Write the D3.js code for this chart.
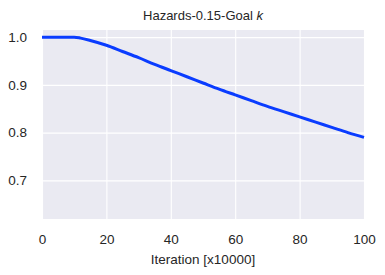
<!DOCTYPE html>
<html>
<head>
<meta charset="utf-8">
<script src="https://cdn.jsdelivr.net/npm/d3@7"></script>
<style>
  body { margin: 0; background: #fff; }
  text { font-family: "Liberation Sans", Arial, sans-serif; fill: #262626; }
</style>
</head>
<body>
<div id="chart"><svg></svg></div>
<script>
var iterations = [0, 5, 10, 12, 15, 20, 25, 30, 35, 40, 45, 50, 55, 60, 65, 70, 75, 80, 85, 90, 95, 100];
var values = [1.0, 1.0, 1.0, 0.998, 0.993, 0.983, 0.970, 0.957, 0.943, 0.930, 0.917, 0.904, 0.891, 0.879, 0.867, 0.855, 0.844, 0.833, 0.822, 0.811, 0.800, 0.790];
var xTicks = [0, 20, 40, 60, 80, 100];
var yTicks = [0.7, 0.8, 0.9, 1.0];

var margin = { top: 30, right: 21, bottom: 56, left: 42 };
var width = 385 - margin.left - margin.right;
var height = 275 - margin.top - margin.bottom;

var ds = iterations.map(function(x, i) { return { x: x, y: values[i] }; });

var xScale = d3.scaleLinear().range([0, width]).domain([0, 100]);
var yScale = d3.scaleLinear().range([height, 0]).domain([0.619, 1.015]);

var svg = d3.select("#chart svg").
  attr("width", 385).
  attr("height", 275).
  append("g").
  attr("transform", "translate(" + margin.left + "," + margin.top + ")");

svg.append("rect").
  attr("width", width).
  attr("height", height).
  attr("fill", "#eaeaf2");

var xAxis = d3.axisBottom(xScale).
  tickValues(xTicks).
  tickFormat(d3.format("d")).
  tickSize(-height).
  tickPadding(15);

var yAxis = d3.axisLeft(yScale).
  tickValues(yTicks).
  tickFormat(d3.format(".1f")).
  tickSize(-width).
  tickPadding(15);

var gX = svg.append("g").
  attr("transform", "translate(0," + height + ")").
  call(xAxis);

var gY = svg.append("g").
  call(yAxis);

[gX, gY].forEach(function(g) {
  g.select(".domain").remove();
  g.selectAll(".tick line").attr("stroke", "#fff").attr("stroke-width", 1.1);
  g.selectAll(".tick text").style("font-size", "13.5px").attr("fill", "#262626");
});

var line = d3.line().
  x(function(d) { return xScale(d.x); }).
  y(function(d) { return yScale(d.y); }).
  curve(d3.curveMonotoneX);

svg.append("path").
  datum(ds).
  attr("fill", "none").
  attr("stroke", "#0a3cff").
  attr("stroke-width", 3).
  attr("d", line);

var title = svg.append("text").
  attr("x", width / 2).
  attr("y", -10).
  attr("text-anchor", "middle").
  style("font-size", "13px");
title.append("tspan").text("Hazards-0.15-Goal ");
title.append("tspan").attr("font-style", "italic").text("k");

svg.append("text").
  attr("x", width / 2).
  attr("y", height + 45).
  attr("text-anchor", "middle").
  style("font-size", "13.5px").
  text("Iteration [x10000]");
</script>
</body>
</html>
